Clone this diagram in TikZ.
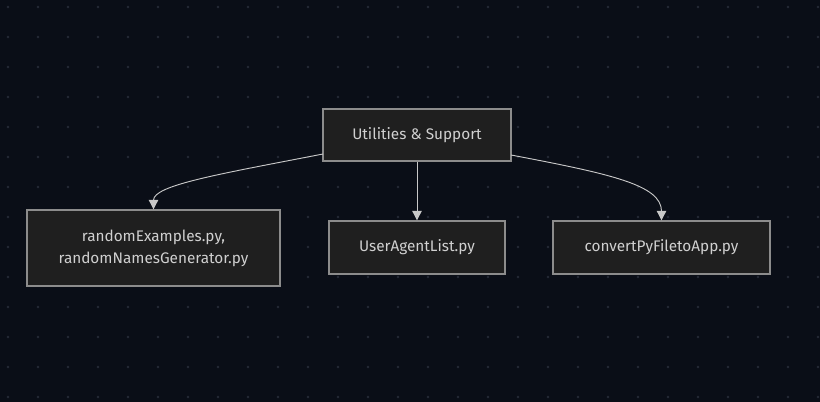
\documentclass[tikz,border=0pt]{standalone}
\usepackage{fontspec}
\setmainfont{Fira Sans}
\usetikzlibrary{arrows.meta}
\definecolor{bgc}{HTML}{0A0E17}
\definecolor{dotc}{HTML}{252A36}
\definecolor{boxfill}{HTML}{1F1F1F}
\definecolor{boxline}{HTML}{8C8C8C}
\definecolor{txtc}{HTML}{D0D0D0}
\definecolor{edgec}{HTML}{C8C8C8}
\tikzset{
  box/.style={draw=boxline, line width=1pt, fill=boxfill, text=txtc, font=\fontsize{11.5}{16.5}\selectfont, align=center, inner sep=0pt, anchor=center},
  edge/.style={draw=edgec, line width=0.7pt, -{Triangle[length=7pt,width=7pt]}}
}
\begin{document}
\begin{tikzpicture}[x=0.75pt,y=-0.75pt]
\fill[bgc] (0,0) rectangle (820,402);
\useasboundingbox (0,0) rectangle (820,402);
\foreach \i in {0,...,27}{
  \foreach \j in {0,...,13}{
    \fill[dotc] (8+30*\i,7+30*\j) circle (1.3);
  }
}
\node[box, minimum width=188*0.75pt, minimum height=52*0.75pt] (top) at (417,135) {Utilities \& Support};
\node[box, minimum width=253*0.75pt, minimum height=76*0.75pt] (left) at (153.5,248) {randomExamples.py,\\randomNamesGenerator.py};
\node[box, minimum width=176*0.75pt, minimum height=53*0.75pt] (mid) at (417,247.5) {UserAgentList.py};
\node[box, minimum width=217*0.75pt, minimum height=53*0.75pt] (right) at (661.5,247.5) {convertPyFiletoApp.py};
\coordinate (ls) at (323,154);
\coordinate (rs) at (511,155);
\draw[edge] (ls) .. controls (220,174) and (153.5,185) .. (left.north);
\draw[edge] (top.south) -- (mid.north);
\draw[edge] (rs) .. controls (611,174) and (661.5,185) .. (right.north);
\end{tikzpicture}
\end{document}
